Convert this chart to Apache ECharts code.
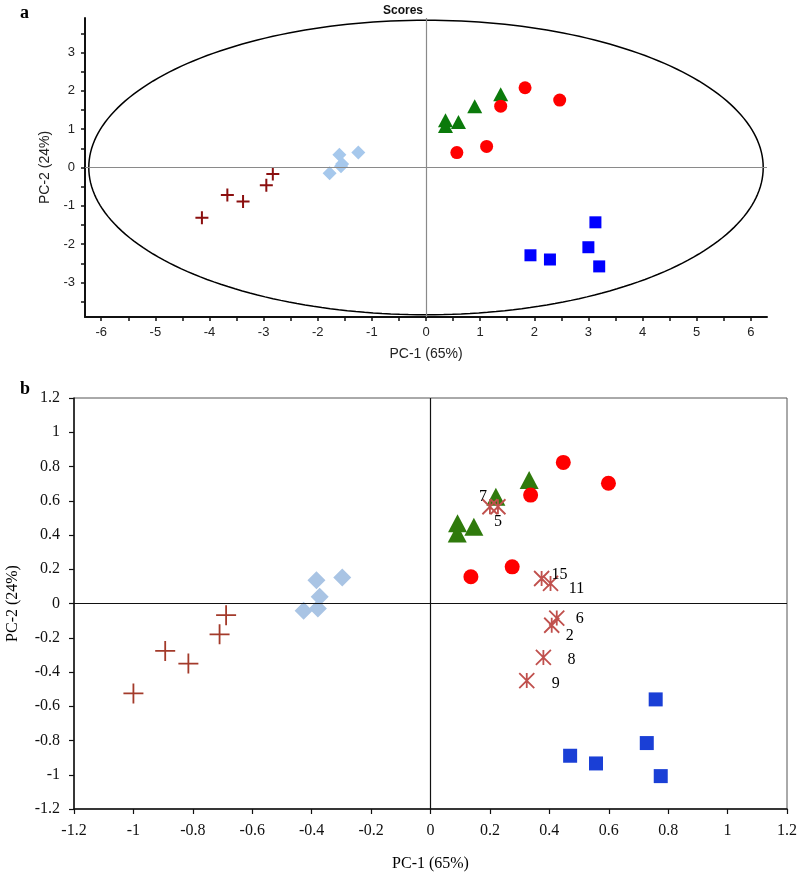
<!DOCTYPE html>
<html><head><meta charset="utf-8">
<script src="https://cdn.jsdelivr.net/npm/echarts@6/dist/echarts.min.js"></script>
<style>html,body{margin:0;padding:0;background:#fff}#c{width:797px;height:873px}</style>
</head><body><div id="c"></div>
<script>
// ---------- Panel a data ----------
const aCrossX = [-2.83, -2.95, -3.67, -3.38, -4.14];
const aCrossY = [-0.17, -0.46, -0.72, -0.89, -1.31];
const aDiamondX = [-1.78, -1.60, -1.55, -1.25, -1.57];
const aDiamondY = [-0.15, 0.33, 0.09, 0.39, 0.03];
const aTriangleX = [1.38, 0.90, 0.60, 0.36, 0.36];
const aTriangleY = [1.91, 1.60, 1.19, 1.23, 1.08];
const aCircleX = [1.83, 2.47, 1.38, 1.12, 0.57];
const aCircleY = [2.08, 1.76, 1.60, 0.55, 0.39];
const aSquareX = [3.13, 3.00, 1.93, 2.29, 3.20];
const aSquareY = [-1.43, -2.08, -2.29, -2.40, -2.58];
const aEllipseRadii = [6.23, 3.84];
const aXTicks = [-6,-5.5,-5,-4.5,-4,-3.5,-3,-2.5,-2,-1.5,-1,-0.5,0,0.5,1,1.5,2,2.5,3,3.5,4,4.5,5,5.5,6];
const aXLabels = [-6,-5,-4,-3,-2,-1,0,1,2,3,4,5,6];
const aYTicks = [-3.5,-3,-2.5,-2,-1.5,-1,-0.5,0,0.5,1,1.5,2,2.5,3,3.5];
const aYLabels = [-3,-2,-1,0,1,2,3];

// ---------- Panel b data ----------
const bCrossX = [-1.00, -0.893, -0.815, -0.710, -0.688];
const bCrossY = [-0.525, -0.277, -0.351, -0.180, -0.068];
const bDiamondX = [-0.384, -0.297, -0.373, -0.427, -0.379];
const bDiamondY = [0.136, 0.152, 0.039, -0.043, -0.029];
const bTriangleX = [0.332, 0.220, 0.091, 0.146, 0.090];
const bTriangleY = [0.721, 0.623, 0.468, 0.448, 0.409];
const bCircleX = [0.447, 0.599, 0.337, 0.275, 0.136];
const bCircleY = [0.824, 0.702, 0.633, 0.214, 0.156];
const bSquareX = [0.758, 0.728, 0.470, 0.557, 0.775];
const bSquareY = [-0.560, -0.815, -0.889, -0.934, -1.008];
const bStarX = [0.200, 0.227, 0.374, 0.404, 0.425, 0.408, 0.380, 0.324];
const bStarY = [0.565, 0.565, 0.146, 0.117, -0.085, -0.127, -0.315, -0.450];
const bStarLabels = ['7', '5', '15', '11', '6', '2', '8', '9'];

// label placement (layout only)
const starLabelOffset = {'7':[-7,-10],'5':[0,15],'15':[18,-4],'11':[26,5],'6':[23,1],'2':[18,11],'8':[28,2],'9':[29,3]};

const zip = (xs, ys) => xs.map((x, i) => [x, ys[i]]);
const ellipsePts = [];
for (let i = 0; i <= 240; i++) {
  const t = i / 240 * Math.PI * 2;
  ellipsePts.push([aEllipseRadii[0] * Math.cos(t), aEllipseRadii[1] * Math.sin(t)]);
}

const SANS = 'Liberation Sans, Arial, sans-serif';
const SERIF = 'Liberation Serif, Times New Roman, serif';
const plusPath = 'path://M5,0L5,10M0,5L10,5';
const starPath = 'path://M0,0L10,10M10,0L0,10M5,0L5,10';

const chart = echarts.init(document.getElementById('c'), null, {renderer: 'canvas'});
const option = {
  animation: false,
  backgroundColor: '#fff',
  graphic: [
    {type: 'text', left: 20, top: 4, style: {text: 'a', font: 'bold 18px ' + SERIF, fill: '#000'}},
    {type: 'text', left: 20, top: 380, style: {text: 'b', font: 'bold 18px ' + SERIF, fill: '#000'}},
    {type: 'text', x: 403, y: 11, style: {text: 'Scores', font: 'bold 12px ' + SANS, fill: '#111', align: 'center', verticalAlign: 'middle'}}
  ],
  grid: [
    {left: 85, right: 30, top: 18, height: 299, outerBoundsMode: 'none', containLabel: false},
    {left: 74, right: 10, top: 398, height: 411, outerBoundsMode: 'none', containLabel: false,
      show: true, borderColor: '#555', borderWidth: 1, backgroundColor: 'transparent'}
  ],
  xAxis: [
    {
      gridIndex: 0, type: 'value', min: -6.3, max: 6.3,
      name: 'PC-1 (65%)', nameLocation: 'middle', nameGap: 30,
      nameTextStyle: {fontSize: 14, fontFamily: SANS, color: '#222'},
      axisLine: {show: true, onZero: false, lineStyle: {color: '#111', width: 2}},
      axisTick: {show: true, inside: false, length: 4, lineStyle: {color: '#111', width: 1.5}, customValues: aXTicks},
      axisLabel: {customValues: aXLabels, margin: 9, fontSize: 13, fontFamily: SANS, color: '#222'},
      splitLine: {show: false}
    },
    {
      gridIndex: 1, type: 'value', min: -1.2, max: 1.2, interval: 0.2,
      name: 'PC-1 (65%)', nameLocation: 'middle', nameGap: 47,
      nameTextStyle: {fontSize: 16, fontFamily: SERIF, color: '#000'},
      axisLine: {show: true, onZero: false, lineStyle: {color: '#111', width: 1.5}},
      axisTick: {show: true, inside: false, length: 5, lineStyle: {color: '#111', width: 1.2}},
      axisLabel: {margin: 14, fontSize: 16, fontFamily: SERIF, color: '#111'},
      splitLine: {show: false}
    }
  ],
  yAxis: [
    {
      gridIndex: 0, type: 'value', min: -3.9, max: 3.9,
      name: 'PC-2 (24%)', nameLocation: 'middle', nameGap: 32, nameRotate: 90,
      nameTextStyle: {fontSize: 14, fontFamily: SANS, color: '#222'},
      axisLine: {show: true, onZero: false, lineStyle: {color: '#111', width: 2}},
      axisTick: {show: true, inside: false, length: 4, lineStyle: {color: '#111', width: 1.5}, customValues: aYTicks},
      axisLabel: {customValues: aYLabels, margin: 10, fontSize: 13, fontFamily: SANS, color: '#222'},
      splitLine: {show: false}
    },
    {
      gridIndex: 1, type: 'value', min: -1.2, max: 1.2, interval: 0.2,
      name: 'PC-2 (24%)', nameLocation: 'middle', nameGap: 53, nameRotate: 90,
      nameTextStyle: {fontSize: 16, fontFamily: SERIF, color: '#000'},
      axisLine: {show: true, onZero: false, lineStyle: {color: '#111', width: 1.5}},
      axisTick: {show: true, inside: false, length: 5, lineStyle: {color: '#111', width: 1.2}},
      axisLabel: {margin: 14, fontSize: 16, fontFamily: SERIF, color: '#111'},
      splitLine: {show: false}
    }
  ],
  series: [
    // ---- panel a ----
    {
      type: 'line', xAxisIndex: 0, yAxisIndex: 0, data: ellipsePts, showSymbol: false, smooth: false,
      lineStyle: {color: '#000', width: 1.5}, silent: true, z: 1,
      markLine: {silent: true, symbol: 'none', label: {show: false}, lineStyle: {color: '#8a8a8a', width: 1.2, type: 'solid'},
        data: [{xAxis: 0}, {yAxis: 0}]}
    },
    {type: 'scatter', xAxisIndex: 0, yAxisIndex: 0, data: zip(aCrossX, aCrossY), symbol: plusPath, symbolSize: 13,
      itemStyle: {color: 'rgba(0,0,0,0)', borderColor: '#8b0f0f', borderWidth: 2, opacity: 1}, z: 3},
    {type: 'scatter', xAxisIndex: 0, yAxisIndex: 0, data: zip(aDiamondX, aDiamondY), symbol: 'diamond', symbolSize: 14,
      itemStyle: {color: '#a6c8ec', opacity: 1}, z: 3},
    {type: 'scatter', xAxisIndex: 0, yAxisIndex: 0, data: zip(aTriangleX, aTriangleY), symbol: 'triangle', symbolSize: [15, 14],
      itemStyle: {color: '#0b7a0b', opacity: 1}, z: 3},
    {type: 'scatter', xAxisIndex: 0, yAxisIndex: 0, data: zip(aCircleX, aCircleY), symbol: 'circle', symbolSize: 13,
      itemStyle: {color: '#ff0000', opacity: 1}, z: 4},
    {type: 'scatter', xAxisIndex: 0, yAxisIndex: 0, data: zip(aSquareX, aSquareY), symbol: 'rect', symbolSize: 12,
      itemStyle: {color: '#0000ff', opacity: 1}, z: 3},
    // ---- panel b ----
    {
      type: 'line', xAxisIndex: 1, yAxisIndex: 1, data: [], silent: true,
      markLine: {silent: true, symbol: 'none', label: {show: false}, lineStyle: {color: '#111', width: 1.2, type: 'solid'},
        data: [{xAxis: 0}, {yAxis: 0}]}
    },
    {type: 'scatter', xAxisIndex: 1, yAxisIndex: 1, data: zip(bCrossX, bCrossY), symbol: plusPath, symbolSize: 20,
      itemStyle: {color: 'rgba(0,0,0,0)', borderColor: '#a33a2a', borderWidth: 1.8, opacity: 1}, z: 3},
    {type: 'scatter', xAxisIndex: 1, yAxisIndex: 1, data: zip(bDiamondX, bDiamondY), symbol: 'diamond', symbolSize: 18,
      itemStyle: {color: '#a9c4e4', opacity: 1}, z: 3},
    {type: 'scatter', xAxisIndex: 1, yAxisIndex: 1, data: zip(bTriangleX, bTriangleY), symbol: 'triangle', symbolSize: [19, 18],
      itemStyle: {color: '#2f7a0c', opacity: 1}, z: 3},
    {type: 'scatter', xAxisIndex: 1, yAxisIndex: 1, data: zip(bCircleX, bCircleY), symbol: 'circle', symbolSize: 15,
      itemStyle: {color: '#ff0000', opacity: 1}, z: 4},
    {type: 'scatter', xAxisIndex: 1, yAxisIndex: 1, data: zip(bSquareX, bSquareY), symbol: 'rect', symbolSize: 14,
      itemStyle: {color: '#1a3fd6', opacity: 1}, z: 3},
    {type: 'scatter', xAxisIndex: 1, yAxisIndex: 1, symbol: starPath, symbolSize: 15, z: 5,
      itemStyle: {color: 'rgba(0,0,0,0)', borderColor: '#c0504d', borderWidth: 1.8, opacity: 1},
      data: bStarX.map((x, i) => ({
        value: [x, bStarY[i]], name: bStarLabels[i],
        label: {show: true, position: 'inside', offset: starLabelOffset[bStarLabels[i]], formatter: '{b}',
          fontSize: 16, fontFamily: SERIF, color: '#000', opacity: 1, textBorderWidth: 0}
      }))}
  ]
};
chart.setOption(option);
</script>
</body></html>
